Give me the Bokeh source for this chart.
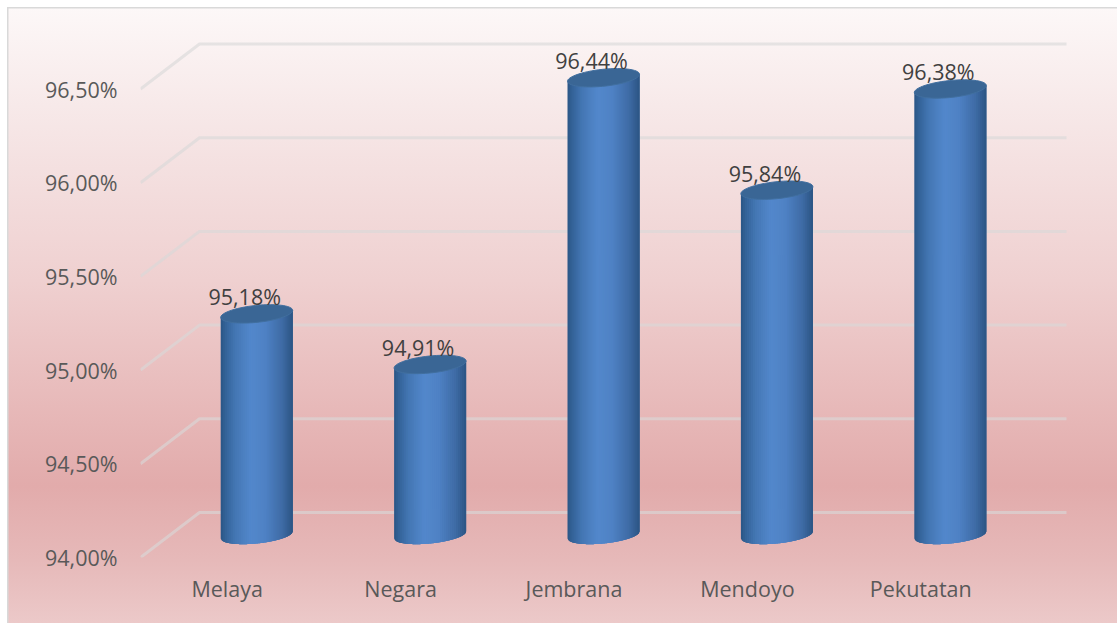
from bokeh.embed import file_html
from bokeh.resources import INLINE
from bokeh.plotting import figure
from bokeh.models import ColumnDataSource, FixedTicker, InlineStyleSheet
from bokeh.core.properties import value
import numpy as np

categories = ["Melaya", "Negara", "Jembrana", "Mendoyo", "Pekutatan"]
values = [95.18, 94.91, 96.44, 95.84, 96.38]
labels = ["95,18%", "94,91%", "96,44%", "95,84%", "96,38%"]
y_ticks = [94.0, 94.5, 95.0, 95.5, 96.0, 96.5]
y_tick_labels = ["94,00%", "94,50%", "95,00%", "95,50%", "96,00%", "96,50%"]

# The picture starts at the figure's own top-left corner: positions below are window pixels.
W, H = 1117, 623
LEFT, RIGHT, TOP, BOTTOM = 140, 47, 30, 66
PX_X, PX_Y = 173.4, 187.4           # pixels per category / per unit
fw, fh = W - LEFT - RIGHT, H - TOP - BOTTOM
dx, dy = 59 / PX_X, 45 / PX_Y       # depth of the 3D floor
half_w, ell_h, tilt = 36 / PX_X, 8.5 / PX_Y, 3.5 / PX_Y
FONT = "Open Sans"

sheet = InlineStyleSheet(css=""":host{
  background:
    linear-gradient(#d9d9d9,#d9d9d9) 7px 7px/1.5px 100% no-repeat,
    linear-gradient(#d9d9d9,#d9d9d9) 7px 7px/100% 1.5px no-repeat,
    linear-gradient(#fff,#fff) 0 0/7px 100% no-repeat,
    linear-gradient(#fff,#fff) 0 0/100% 7px no-repeat,
    linear-gradient(180deg,#fdf9f9 0%,#f7e9e9 17%,#efd0d0 45%,#e6b6b6 68%,#e2abab 78%,#e6b9b9 90%,#ecc9c9 100%);
}""")

p = figure(width=W, height=H, output_backend="svg", toolbar_location=None,
           x_range=(-0.5, -0.5 + fw / PX_X), y_range=(94.0, 94.0 + fh / PX_Y),
           min_border_left=LEFT, min_border_right=RIGHT, min_border_top=TOP, min_border_bottom=BOTTOM,
           background_fill_color=None, border_fill_color=None, outline_line_color=None)
p.stylesheets = [sheet]
p.grid.visible = False

for ax, ticks, names, standoff in ((p.yaxis[0], y_ticks, y_tick_labels, 17),
                                   (p.xaxis[0], list(range(len(categories))), categories, 10)):
    ax.ticker = FixedTicker(ticks=ticks)
    ax.major_label_overrides = dict(zip(ticks, names))
    ax.axis_line_color = None
    ax.major_tick_line_color = None
    ax.minor_tick_line_color = None
    ax.major_label_text_font = FONT
    ax.major_label_text_font_size = "21.5px"
    ax.major_label_text_color = "#595959"
    ax.major_label_standoff = standoff

# floor/back-wall grid lines
right_end = -0.5 + len(categories) + dx
p.multi_line([[-0.5, -0.5 + dx, right_end] for _ in y_ticks],
             [[v, v + dy, v + dy] for v in y_ticks],
             line_color="#d9d9d9", line_alpha=0.62, line_width=3)

# colour ramp across a cylinder
stops = np.array([0, .06, .2, .42, .62, .85, 1.0])
reds = np.array([0x2b, 0x33, 0x44, 0x53, 0x4f, 0x3f, 0x2c])
grns = np.array([0x56, 0x62, 0x77, 0x88, 0x82, 0x6c, 0x55])
blus = np.array([0x85, 0x97, 0xb4, 0xcc, 0xc5, 0xa6, 0x84])
N = 36
xs, ys, cols = [], [], []
tx, ty = [], []
for i, v in enumerate(values):
    cx, base = i + dx / 2, 94.0 + dy / 2
    for k in range(N):
        a, b = -1 + 2 * k / N, min(1.0, -1 + 2 * (k + 3) / N)
        u = np.linspace(a, b, 8)
        low = base - ell_h * np.sqrt(1 - u ** 2) + tilt * u
        top = np.full(8, v + dy / 2) + tilt * u
        xs.append(list(cx + half_w * np.r_[u, u[::-1]]))
        ys.append(list(np.r_[low, top[::-1]]))
        t = (k + .5) / N
        cols.append("#%02x%02x%02x" % (int(np.interp(t, stops, reds)), int(np.interp(t, stops, grns)), int(np.interp(t, stops, blus))))
    th = np.linspace(0, 2 * np.pi, 60)
    tx.append(list(cx + half_w * np.cos(th)))
    ty.append(list(v + dy / 2 + ell_h * np.sin(th) + tilt * np.cos(th)))

p.patches(xs="xs", ys="ys", fill_color="cols", line_color=None,
          source=ColumnDataSource(dict(xs=xs, ys=ys, cols=cols)))
p.patches(xs=tx, ys=ty, fill_color="#3a6695", line_color="#416f9f", line_width=1)

# data labels
p.text(x=[i + dx / 2 - 12 / PX_X for i in range(len(values))],
       y=[v + dy / 2 + 17 / PX_Y for v in values], text=labels,
       text_font=value(FONT), text_font_size="21.5px", text_color="#404040",
       text_align="center", text_baseline="middle")

open("out.html", "w").write(file_html(p, INLINE))
